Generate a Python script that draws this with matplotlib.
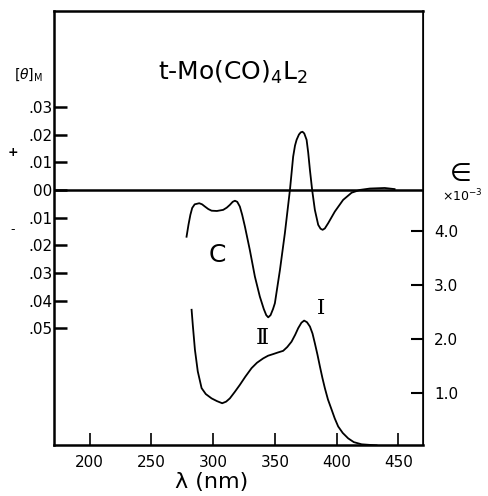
import matplotlib
matplotlib.use('Agg')
import matplotlib.pyplot as plt

matplotlib.rcParams['font.family'] = 'DejaVu Sans'
matplotlib.rcParams['mathtext.fontset'] = 'dejavusans'

# CD spectrum, [theta]_M (left axis)
cd_wl = [278.4, 280.0, 281.5, 283.0, 285.0, 288.7, 291.0, 293.3, 296.0, 298.7,
         303.0, 308.1, 311.0, 313.5, 315.8, 317.6, 319.5, 321.6, 323.5, 325.7,
         329.7, 333.8, 337.8, 341.0, 343.0, 344.6, 346.5, 348.5, 350.0, 354.1,
         358.1, 362.2, 364.8, 366.3, 367.6, 369.5, 371.0, 372.4, 373.8, 375.7,
         377.0, 378.4, 380.2, 382.4, 385.1, 387.0, 388.7, 390.5, 393.2, 398.6,
         405.3, 412.2, 418.9, 427.0, 439.0, 447.0]
cd_theta = [-0.0169, -0.0125, -0.0090, -0.0065, -0.0052, -0.0048, -0.0052, -0.0060, -0.0069, -0.0075,
            -0.0076, -0.0072, -0.0064, -0.0054, -0.0043, -0.0039, -0.0043, -0.0060, -0.0090, -0.0132,
            -0.0217, -0.0313, -0.0385, -0.0430, -0.0452, -0.0460, -0.0452, -0.0430, -0.0409, -0.0289,
            -0.0156, 0.0, 0.0120, 0.0160, 0.0181, 0.0200, 0.0208, 0.0210, 0.0204, 0.0181,
            0.0135, 0.0072, 0.0, -0.0072, -0.0126, -0.0140, -0.0144, -0.0139, -0.0120, -0.0078,
            -0.0036, -0.0010, 0.0, 0.0005, 0.0007, 0.0003]

# absorption spectrum, epsilon x 10^-3 (right axis)
abs_wl = [282.5, 283.5, 285.2, 287.5, 290.6, 294.0, 298.7, 303.0, 307.3, 310.5,
          313.5, 317.5, 321.6, 326.0, 331.1, 335.5, 340.5, 344.5, 348.6, 352.5,
          356.7, 360.0, 363.5, 366.5, 368.9, 371.5, 373.7, 376.0, 378.4, 380.5,
          382.4, 384.5, 386.5, 388.5, 390.5, 393.0, 396.0, 398.5, 401.3, 405.0,
          409.4, 414.0, 420.3, 432.4]
abs_eps = [2.54, 2.25, 1.80, 1.40, 1.09, 0.98, 0.90, 0.85, 0.81, 0.84,
           0.90, 1.02, 1.15, 1.30, 1.46, 1.56, 1.64, 1.69, 1.72, 1.75,
           1.78, 1.85, 1.95, 2.08, 2.20, 2.30, 2.34, 2.31, 2.23, 2.10,
           1.92, 1.71, 1.49, 1.28, 1.09, 0.88, 0.69, 0.53, 0.38, 0.26,
           0.16, 0.09, 0.05, 0.03]

x_ticks = [200, 250, 300, 350, 400, 450]
cd_ticks = [0.03, 0.02, 0.01, 0.0, -0.01, -0.02, -0.03, -0.04, -0.05]
cd_tick_labels = ['.03', '.02', '.01', '00', '.01', '.02', '.03', '.04', '.05']
eps_ticks = [1.0, 2.0, 3.0, 4.0]
eps_tick_labels = ['1.0', '2.0', '3.0', '4.0']

fig = plt.figure(figsize=(4.88, 4.96), dpi=100)
ax = fig.add_axes([0.1107, 0.1028, 0.756, 0.875])
ax2 = ax.twinx()

ax.axhline(0, color='black', lw=1.8)
ax.plot(cd_wl, cd_theta, color='black', lw=1.3)
ax2.plot(abs_wl, abs_eps, color='black', lw=1.3)

ax.set_xlim(171, 470)
ax.set_ylim(-0.0921, 0.0646)
ax2.set_ylim(0.037, 8.07)

ax.set_xticks(x_ticks)
ax.set_yticks(cd_ticks)
ax.set_yticklabels(cd_tick_labels)
ax2.set_yticks(eps_ticks)
ax2.set_yticklabels(eps_tick_labels)

ax.tick_params(axis='x', direction='in', length=9, width=1.2, labelsize=11, pad=7)
ax.tick_params(axis='y', direction='in', length=9, width=1.8, labelsize=11, pad=1)
ax2.tick_params(axis='y', direction='in', length=9, width=1.5, labelsize=11, pad=8)

for s in ['left', 'bottom', 'top']:
    ax.spines[s].set_linewidth(1.8)
ax2.spines['right'].set_linewidth(1.2)
for s in ['left', 'bottom', 'top']:
    ax2.spines[s].set_visible(False)

# annotations
fig.text(233 / 488, 1 - 72 / 496, 't-Mo(CO)$_4$L$_2$', fontsize=18,
         ha='center', va='center')
fig.text(28 / 488, 1 - 75 / 496, r'$[\theta]_\mathrm{M}$', fontsize=10,
         ha='center', va='center')
fig.text(13 / 488, 1 - 153 / 496, '+', fontsize=9, fontweight='bold',
         ha='center', va='center')
fig.text(13 / 488, 1 - 230 / 496, '-', fontsize=9, ha='center', va='center')
fig.text(217 / 488, 1 - 255 / 496, 'C', fontsize=18, ha='center', va='center')
fig.text(262 / 488, 1 - 338 / 496, 'Ⅱ', fontsize=16, ha='center', va='center',
         family='DejaVu Serif')
fig.text(321 / 488, 1 - 308 / 496, 'Ⅰ', fontsize=15, ha='center', va='center',
         family='DejaVu Serif')
fig.text(461 / 488, 1 - 174 / 496, '∈', fontsize=18, ha='center', va='center')
fig.text(462 / 488, 1 - 196 / 496, '×10$^{-3}$', fontsize=9, ha='center', va='center')
fig.text(212 / 488, 1 - 488 / 496, 'λ (nm)', fontsize=16, ha='center', va='baseline')

fig.savefig('out.png', dpi=100)
